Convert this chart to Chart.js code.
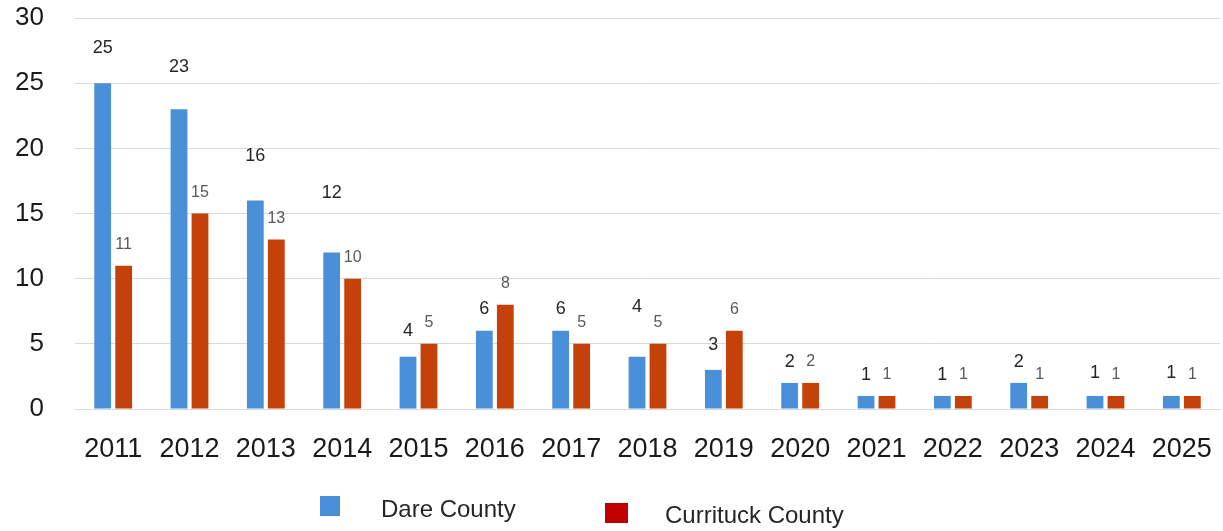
<!DOCTYPE html>
<html>
<head>
<meta charset="utf-8">
<script src="https://cdn.jsdelivr.net/npm/chart.js@4/dist/chart.umd.min.js"></script>
<style>
  html, body { margin: 0; padding: 0; background: #fff; overflow: hidden; }
  #wrap { width: 1223px; height: 531px; position: relative; }
  canvas { display: block; }
</style>
</head>
<body>
<div id="wrap"><canvas id="county-chart"></canvas></div>
<script>
var years = ["2011", "2012", "2013", "2014", "2015", "2016", "2017", "2018", "2019", "2020",
    "2021", "2022", "2023", "2024", "2025"];
var dareCounty = [25, 23, 16, 12, 4, 6, 6, 4, 3, 2, 1, 1, 2, 1, 1];
var currituckCounty = [11, 15, 13, 10, 5, 8, 5, 5, 6, 2, 1, 1, 1, 1, 1];
var yTicks = [0, 5, 10, 15, 20, 25, 30];

// extra lift for a few of the Dare labels, which sit higher than the rest
var dareLabelLift = [14, 21, 23, 39, 5, 1, 1, 29, 4, 0, 0, 0, 0, 2, 2];

var fontFamily = '"Liberation Sans", Arial, sans-serif';

var valueLabels = {
    id: 'valueLabels',
    afterDatasetsDraw: function (chart) {
        var ctx = chart.ctx;
        ctx.save();
        ctx.textAlign = 'center';
        ctx.textBaseline = 'middle';
        chart.data.datasets.forEach(function (ds, i) {
            var meta = chart.getDatasetMeta(i);
            ctx.font = (i === 0 ? '18px ' : '16px ') + fontFamily;
            ctx.fillStyle = i === 0 ? '#262626' : '#595959';
            meta.data.forEach(function (bar, j) {
                var lift = 21 + (i === 0 ? dareLabelLift[j] : 0);
                ctx.fillText(ds.data[j], bar.x, bar.y - lift);
            });
        });
        ctx.restore();
    }
};

var bottomLegend = {
    id: 'bottomLegend',
    afterDraw: function (chart) {
        var ctx = chart.ctx;
        var items = [
            { box: [320, 496, 20, 20], textX: 381, textY: 510 },
            { box: [605, 503, 23, 20], textX: 665, textY: 516 }
        ];
        ctx.save();
        ctx.font = '24px ' + fontFamily;
        ctx.textBaseline = 'middle';
        ctx.textAlign = 'left';
        chart.data.datasets.forEach(function (ds, i) {
            var it = items[i];
            ctx.fillStyle = ds.legendColor;
            ctx.fillRect(it.box[0], it.box[1], it.box[2], it.box[3]);
            ctx.fillStyle = '#262626';
            ctx.fillText(ds.label, it.textX, it.textY);
        });
        ctx.restore();
    }
};

var countyData = {
    labels: years,
    datasets: [{
        label: "Dare County",
        data: dareCounty,
        backgroundColor: "#4a90d9",
        legendColor: "#4a90d9",
        categoryPercentage: 0.55,
        barPercentage: 0.8
    },
    {
        label: "Currituck County",
        data: currituckCounty,
        backgroundColor: "#c4420a",
        legendColor: "#c00000",
        categoryPercentage: 0.55,
        barPercentage: 0.8
    }]
};

var chartOptions = {
    responsive: true,
    maintainAspectRatio: false,
    animation: false,
    layout: { padding: { top: 18, right: 3, left: 0, bottom: 0 } },
    plugins: {
        legend: { display: false },
        tooltip: { enabled: false }
    },
    scales: {
        x: {
            grid: { display: false, drawTicks: false },
            border: { display: true, color: '#d9d9d9' },
            ticks: {
                color: '#1a1a1a',
                padding: 24,
                font: { family: fontFamily, size: 27 }
            },
            afterFit: function (scale) {
                scale.height = 122;
                // tick padding should not eat into the plot width
                scale.paddingLeft = 0;
                scale.paddingRight = 0;
            }
        },
        y: {
            min: 0,
            max: 30,
            afterBuildTicks: function (scale) {
                scale.ticks = yTicks.map(function (v) { return { value: v }; });
            },
            grid: { color: '#d9d9d9', drawTicks: false },
            border: { display: false },
            ticks: {
                color: '#1a1a1a',
                padding: 31,
                font: { family: fontFamily, size: 26 }
            },
            afterFit: function (scale) {
                scale.width = 75;
                scale.paddingTop = 0;
                scale.paddingBottom = 0;
            }
        }
    }
};

var ctx = document.getElementById("county-chart");

var myChart = new Chart(ctx, {
    type: 'bar',
    data: countyData,
    options: chartOptions,
    plugins: [valueLabels, bottomLegend]
});
</script>
</body>
</html>
